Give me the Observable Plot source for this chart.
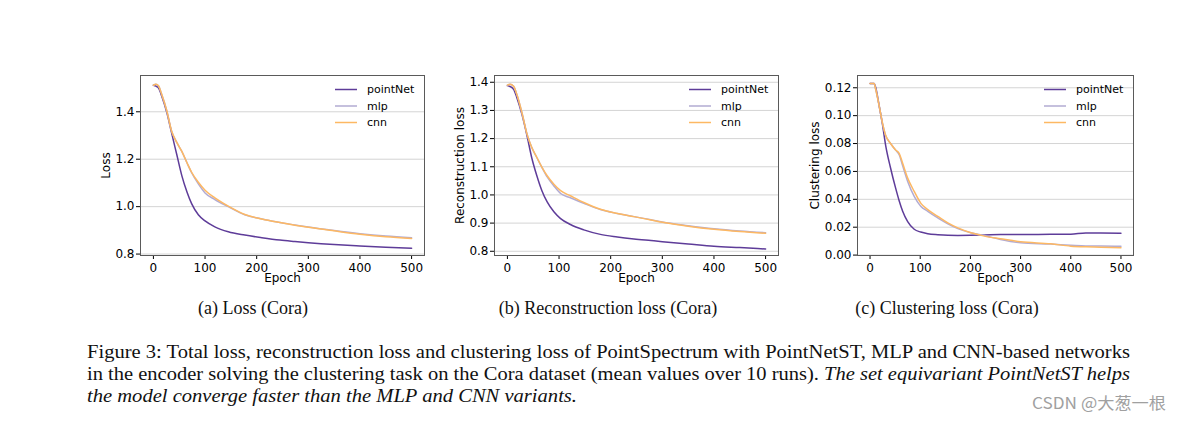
<!DOCTYPE html>
<html>
<head>
<meta charset="utf-8">
<script src="https://cdn.jsdelivr.net/npm/d3@7"></script>
<script src="https://cdn.jsdelivr.net/npm/@observablehq/plot@0.6"></script>
<style>
  html, body { margin: 0; padding: 0; background: #fff; }
  #root { position: relative; width: 1182px; height: 422px; overflow: hidden; background: #fff; }
  .panel { position: absolute; }
  #captions { position: absolute; left: 0; top: 0; }
</style>
</head>
<body>
<div id="root"></div>
<script>
// ---------- data ----------
const seriesNames = ["pointNet", "mlp", "cnn"];
const seriesColors = ["#5e3c99", "#b2abd2", "#fdb863"];
const xTicks = [0, 100, 200, 300, 400, 500];

// (a) Total loss
const epochsA = [0, 5, 10, 16, 26, 35, 45, 55, 65, 74, 87, 100, 119, 145, 177, 210, 245, 274, 300, 350, 400, 450, 500];
const lossPointNet = [1.512, 1.508, 1.500, 1.467, 1.397, 1.313, 1.222, 1.131, 1.062, 1.013, 0.966, 0.940, 0.915, 0.894, 0.880, 0.869, 0.859, 0.853, 0.848, 0.840, 0.834, 0.829, 0.825];
const lossMlp      = [1.512, 1.516, 1.509, 1.474, 1.404, 1.320, 1.272, 1.233, 1.185, 1.143, 1.096, 1.058, 1.030, 1.000, 0.966, 0.948, 0.933, 0.923, 0.914, 0.899, 0.886, 0.876, 0.869];
const lossCnn      = [1.512, 1.516, 1.509, 1.474, 1.404, 1.320, 1.272, 1.233, 1.185, 1.145, 1.103, 1.069, 1.037, 1.002, 0.967, 0.948, 0.933, 0.922, 0.913, 0.898, 0.884, 0.873, 0.866];
const yTicksA = [0.8, 1.0, 1.2, 1.4];

// (b) Reconstruction loss
const epochsB = [0, 5, 12, 18, 28, 38, 47, 57, 67, 77, 90, 103, 122, 148, 180, 213, 245, 278, 300, 350, 400, 450, 500];
const recPointNet = [1.388, 1.385, 1.375, 1.347, 1.287, 1.210, 1.133, 1.068, 1.014, 0.975, 0.940, 0.916, 0.895, 0.876, 0.860, 0.851, 0.844, 0.838, 0.834, 0.826, 0.818, 0.813, 0.808];
const recMlp      = [1.390, 1.393, 1.386, 1.358, 1.293, 1.216, 1.169, 1.133, 1.097, 1.064, 1.032, 1.005, 0.990, 0.970, 0.948, 0.934, 0.923, 0.912, 0.904, 0.891, 0.880, 0.872, 0.866];
const recCnn      = [1.390, 1.393, 1.386, 1.358, 1.293, 1.216, 1.169, 1.133, 1.098, 1.068, 1.038, 1.015, 0.997, 0.973, 0.949, 0.934, 0.923, 0.911, 0.903, 0.889, 0.878, 0.870, 0.864];
const yTicksB = [0.8, 0.9, 1.0, 1.1, 1.2, 1.3, 1.4];

// (c) Clustering loss
const epochsC = [0, 8, 11, 18, 25, 31, 41, 51, 58, 65, 75, 88, 101, 115, 135, 155, 175, 201, 228, 260, 300, 360, 400, 430, 460, 500];
const cluPointNet = [0.1231, 0.1231, 0.1205, 0.1074, 0.0932, 0.0789, 0.0623, 0.0480, 0.0390, 0.0315, 0.0240, 0.0185, 0.0165, 0.0153, 0.0146, 0.0142, 0.0141, 0.0142, 0.0144, 0.0147, 0.0147, 0.0149, 0.0150, 0.0158, 0.0158, 0.0157];
const cluMlp      = [0.1231, 0.1231, 0.1193, 0.1074, 0.0943, 0.0860, 0.0800, 0.0753, 0.0720, 0.0640, 0.0528, 0.0421, 0.0350, 0.0314, 0.0267, 0.0224, 0.0190, 0.0160, 0.0140, 0.0112, 0.0088, 0.0079, 0.0071, 0.0066, 0.0066, 0.0064];
const cluCnn      = [0.1231, 0.1231, 0.1193, 0.1074, 0.0943, 0.0860, 0.0800, 0.0753, 0.0730, 0.0658, 0.0552, 0.0457, 0.0373, 0.0326, 0.0278, 0.0231, 0.0195, 0.0160, 0.0136, 0.0117, 0.0095, 0.0081, 0.0064, 0.0059, 0.0057, 0.0052];
const yTicksC = [0.00, 0.02, 0.04, 0.06, 0.08, 0.10, 0.12];

const subCaptions = ["(a) Loss (Cora)", "(b) Reconstruction loss (Cora)", "(c) Clustering loss (Cora)"];

// ---------- drawing ----------
const root = document.getElementById("root");

function toRows(epochs, values) {
  return epochs.map((e, i) => ({epoch: e, value: values[i]}));
}

function panel({left, top, plotWidth, yDomain, yTicks, yFormat, yLabel, labelDx, epochs, values}) {
  const mL = 60, mR = 10, mT = 15, mB = 40, plotHeight = 180;
  const width = mL + plotWidth + mR;
  const height = mT + plotHeight + mB;
  const marks = [
    Plot.ruleY(yTicks, {stroke: "#d4d4d4", strokeWidth: 1}),
    Plot.axisX({ticks: xTicks, tickSize: 4, tickPadding: 3.5, label: null, fontSize: 12, tickFormat: d3.format("d")}),
    Plot.axisY({ticks: yTicks, tickSize: 4, tickPadding: 2, label: null, fontSize: 12, tickFormat: d3.format(yFormat)}),
    Plot.text(["Epoch"], {frameAnchor: "bottom", dy: 26, fontSize: 12, textAnchor: "middle", fill: "#000"}),
    Plot.text([yLabel], {frameAnchor: "left", dx: labelDx, rotate: -90, fontSize: 12, textAnchor: "middle", fill: "#000"}),
  ];
  values.forEach((vals, i) => {
    marks.push(Plot.line(toRows(epochs, vals), {
      x: "epoch", y: "value", stroke: seriesColors[i], strokeWidth: 1.5, curve: "monotone-x"
    }));
  });
  marks.push(Plot.frame({stroke: "#5a5a5a", strokeWidth: 1}));
  const svg = Plot.plot({
    width, height,
    marginLeft: mL, marginRight: mR, marginTop: mT, marginBottom: mB,
    x: {domain: [-25, 525]},
    y: {domain: yDomain},
    style: {fontFamily: "'DejaVu Sans', sans-serif", fontSize: "12px", color: "#000", background: "transparent", overflow: "visible"},
    marks
  });
  svg.classList.add("panel");
  svg.style.left = left + "px";
  svg.style.top = top + "px";
  svg.style.position = "absolute";
  // legend
  const fr = mL + plotWidth;
  const g = d3.select(svg).append("g")
    .attr("font-family", "'DejaVu Sans', sans-serif")
    .attr("font-size", 11)
    .attr("text-anchor", "start");
  const legendY = [29.5, 46, 62.5];
  seriesNames.forEach((name, i) => {
    g.append("line")
      .attr("x1", fr - 89).attr("x2", fr - 67)
      .attr("y1", legendY[i]).attr("y2", legendY[i])
      .attr("stroke", seriesColors[i]).attr("stroke-width", 1.5);
    g.append("text")
      .attr("x", fr - 57).attr("y", legendY[i])
      .attr("dy", "0.35em").attr("fill", "#000")
      .attr("text-anchor", "start")
      .text(name);
  });
  root.appendChild(svg);
}

panel({left: 80, top: 60, plotWidth: 284, yDomain: [0.794, 1.553], yTicks: yTicksA, yFormat: ".1f",
  yLabel: "Loss", labelDx: -34, epochs: epochsA, values: [lossPointNet, lossMlp, lossCnn]});
panel({left: 434, top: 60, plotWidth: 284, yDomain: [0.785, 1.424], yTicks: yTicksB, yFormat: ".1f",
  yLabel: "Reconstruction loss", labelDx: -34, epochs: epochsB, values: [recPointNet, recMlp, recCnn]});
panel({left: 797, top: 60, plotWidth: 276, yDomain: [-0.0003, 0.1288], yTicks: yTicksC, yFormat: ".2f",
  yLabel: "Clustering loss", labelDx: -42, epochs: epochsC, values: [cluPointNet, cluMlp, cluCnn]});

// captions
const cap = d3.select(root).append("svg")
  .attr("id", "captions")
  .attr("width", 1182).attr("height", 422)
  .style("pointer-events", "none");
const serif = "'Liberation Serif', 'Times New Roman', serif";
const subX = [253, 608, 947];
subCaptions.forEach((t, i) => {
  cap.append("text").attr("x", subX[i]).attr("y", 314)
    .attr("text-anchor", "middle").attr("font-family", serif).attr("font-size", 18)
    .attr("fill", "#111").text(t);
});
cap.append("text").attr("x", 87).attr("y", 358).attr("font-family", serif).attr("font-size", 18)
  .attr("fill", "#111").attr("textLength", 1043).attr("lengthAdjust", "spacingAndGlyphs")
  .text("Figure 3: Total loss, reconstruction loss and clustering loss of PointSpectrum with PointNetST, MLP and CNN-based networks");
const l2 = cap.append("text").attr("x", 87).attr("y", 380).attr("font-family", serif).attr("font-size", 18)
  .attr("fill", "#111").attr("textLength", 1043).attr("lengthAdjust", "spacingAndGlyphs");
l2.append("tspan").text("in the encoder solving the clustering task on the Cora dataset (mean values over 10 runs). ");
l2.append("tspan").attr("font-style", "italic").text("The set equivariant PointNetST helps");
cap.append("text").attr("x", 87).attr("y", 402).attr("font-family", serif).attr("font-size", 18)
  .attr("font-style", "italic").attr("fill", "#111").attr("textLength", 490).attr("lengthAdjust", "spacingAndGlyphs")
  .text("the model converge faster than the MLP and CNN variants.");
cap.append("text").attr("x", 1032).attr("y", 409)
  .attr("font-family", "'Noto Sans CJK SC', sans-serif").attr("font-size", 16)
  .attr("textLength", 134).attr("lengthAdjust", "spacingAndGlyphs")
  .attr("fill", "#a0a0a0").text("CSDN @大葱一根");
</script>
</body>
</html>
